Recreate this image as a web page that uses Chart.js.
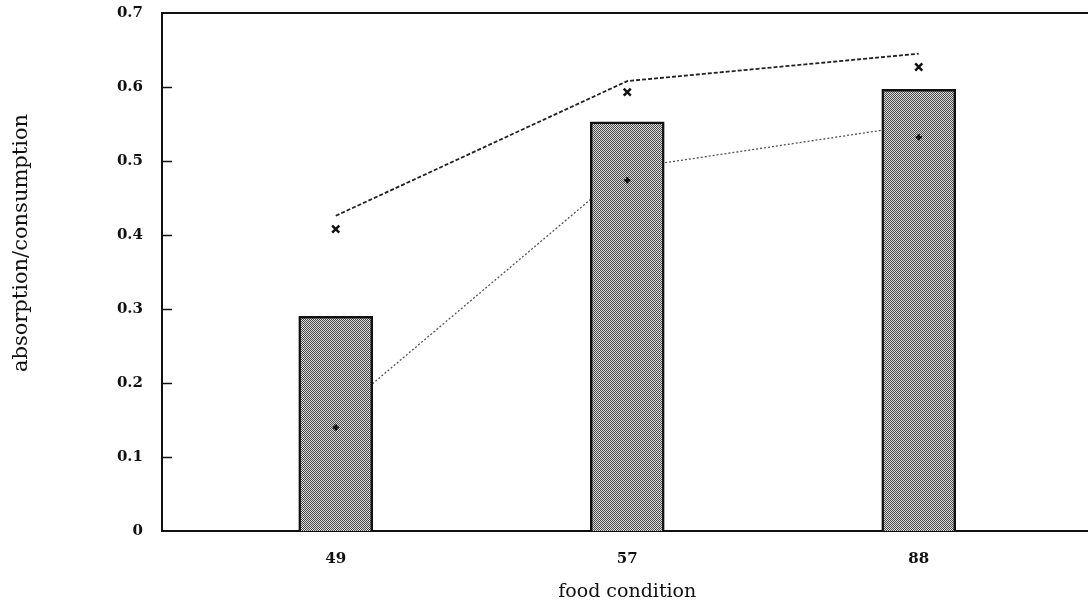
<!DOCTYPE html>
<html><head><meta charset="utf-8">
<script src="https://cdn.jsdelivr.net/npm/chart.js@4/dist/chart.umd.min.js"></script>
<style>
html,body{margin:0;padding:0;overflow:hidden;background:#fff;width:1088px;height:610px}
#wrap{position:absolute;left:0;top:0;width:1100px;height:610px}
</style></head>
<body><div id="wrap"><canvas id="c"></canvas></div>
<script>
const categories = ['49', '57', '88'];
const barValues  = [0.29, 0.553, 0.597];
const upperLine  = [0.426, 0.608, 0.645];
const upperMarks = [0.408, 0.593, 0.627];
const lowerLine  = [0.157, 0.49, 0.549];
const lowerMarks = [0.14, 0.474, 0.532];
const yTickValues = [0, 0.1, 0.2, 0.3, 0.4, 0.5, 0.6, 0.7];
const xTitle = 'food condition';
const yTitle = 'absorption/consumption';

const pts = arr => arr.map((v, i) => ({x: i + 1, y: v}));

function halftone() {
  const p = document.createElement('canvas');
  p.width = 2; p.height = 2;
  const g = p.getContext('2d');
  g.fillStyle = '#dcdcdc'; g.fillRect(0, 0, 2, 2);
  g.fillStyle = '#4a4a4a'; g.fillRect(0, 0, 1, 1); g.fillRect(1, 1, 1, 1);
  return g.createPattern(p, 'repeat');
}

const decor = {
  id: 'decor',
  afterDraw(chart) {
    const {ctx, chartArea: a, scales: {y}} = chart;
    ctx.save();
    ctx.strokeStyle = '#111';
    ctx.lineWidth = 2;
    ctx.beginPath(); ctx.moveTo(a.left, a.top); ctx.lineTo(a.right, a.top); ctx.stroke();
    ctx.lineWidth = 1.5;
    y.ticks.forEach(t => {
      if (t.value <= 0 || t.value >= 0.7) return;
      const py = Math.round(y.getPixelForValue(t.value)) + 0.5;
      ctx.beginPath(); ctx.moveTo(a.left, py); ctx.lineTo(a.left + 10, py); ctx.stroke();
    });
    ctx.translate(22, 243);
    ctx.rotate(-Math.PI / 2);
    ctx.font = '21px "DejaVu Serif"';
    ctx.textAlign = 'center'; ctx.textBaseline = 'middle';
    ctx.fillStyle = '#111';
    ctx.fillText(yTitle, 0, 0);
    ctx.restore();
  }
};

new Chart(document.getElementById('c'), {
  data: {
    datasets: [
      {type: 'scatter', data: pts(upperMarks), showLine: false, pointStyle: 'crossRot',
       pointRadius: 5, borderWidth: 2.5, borderColor: '#111', backgroundColor: '#111', order: 0},
      {type: 'scatter', data: pts(lowerMarks), showLine: false, pointStyle: 'cross',
       pointRadius: 3, borderWidth: 2.5, borderColor: '#111', backgroundColor: '#111', order: 0},
      {type: 'bar', data: pts(barValues), backgroundColor: halftone(), borderColor: '#111',
       borderWidth: 2.5, barThickness: 74, order: 1},
      {type: 'line', data: pts(upperLine), borderColor: '#222', borderWidth: 1.8,
       borderDash: [4, 2], pointRadius: 0, fill: false, tension: 0, order: 2},
      {type: 'line', data: pts(lowerLine), borderColor: '#555', borderWidth: 1.3,
       borderDash: [2, 2], pointRadius: 0, fill: false, tension: 0, order: 2}
    ]
  },
  options: {
    responsive: true, maintainAspectRatio: false, animation: false,
    layout: {padding: {left: 0, right: 6, top: 13, bottom: 0}},
    plugins: {legend: {display: false}, tooltip: {enabled: false}},
    scales: {
      x: {
        type: 'linear', min: 0.404, max: 3.596, offset: false,
        afterBuildTicks: s => { s.ticks = categories.map((c, i) => ({value: i + 1})); },
        afterFit: s => { s.height = 79; s.paddingLeft = 0; s.paddingRight = 0; },
        grid: {display: false, drawTicks: false},
        border: {display: true, color: '#111', width: 2},
        ticks: {callback: v => categories[v - 1] ?? '', padding: 19, maxRotation: 0,
                color: '#111', font: {family: 'DejaVu Serif', size: 15, weight: 'bold'}},
        title: {display: true, text: xTitle, color: '#111',
                font: {family: 'DejaVu Serif', size: 19}, padding: {top: 0, bottom: 7}}
      },
      y: {
        min: 0, max: 0.7,
        afterBuildTicks: s => { s.ticks = yTickValues.map(v => ({value: v})); },
        afterFit: s => { s.width = 162; s.paddingTop = 0; s.paddingBottom = 0; },
        grid: {display: false, drawTicks: false},
        border: {display: true, color: '#111', width: 2},
        ticks: {padding: 19, color: '#111', callback: v => String(v),
                font: {family: 'DejaVu Serif', size: 15, weight: 'bold'}}
      }
    }
  },
  plugins: [decor]
});
</script>
</body></html>
